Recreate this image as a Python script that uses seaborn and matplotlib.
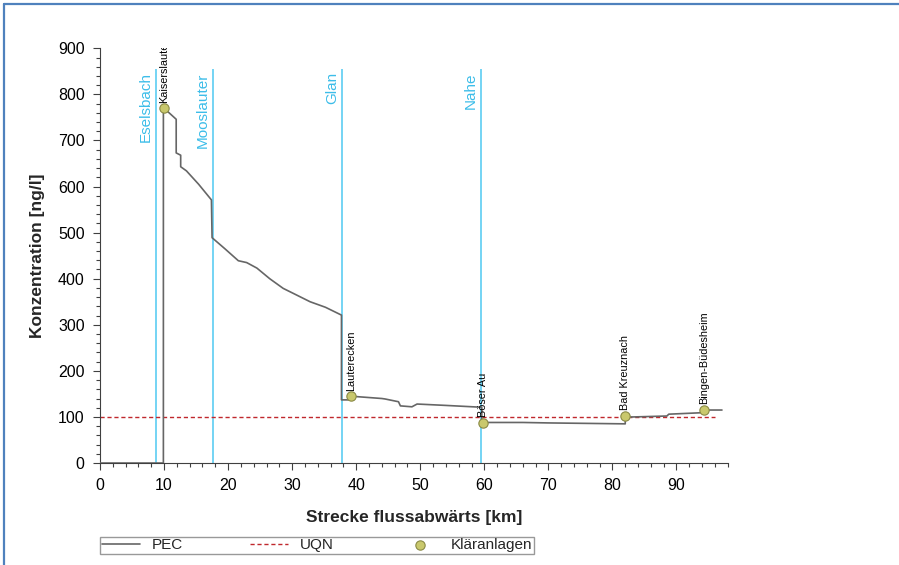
import matplotlib
matplotlib.use("Agg")
import matplotlib.pyplot as plt
import seaborn as sns
import numpy as np
from matplotlib.lines import Line2D
from matplotlib.ticker import MultipleLocator

# ----------------------------
# Data
# ----------------------------
km = [0, 9.9, 9.9, 10.0, 11.9, 11.9, 12.6, 12.6, 13.5, 15.4, 17.4, 17.5,
      19.5, 21.6, 22.9, 24.5, 26.5, 28.6, 30.2, 32.8, 35.2, 37.7, 37.7,
      38.9, 39.2, 44.0, 44.5, 46.6, 46.9, 48.7, 49.5, 54.0, 59.6, 59.6,
      66.0, 70.0, 76.0, 82.0, 82.0, 83.3, 88.5, 88.8, 93.7, 94.3, 97.1]
pec = [0, 0, 770, 770, 746, 673, 668, 643, 634, 605, 571, 489,
       465, 439, 435, 423, 400, 379, 368, 350, 338, 321, 137,
       137, 145, 140, 139, 133, 124, 122, 128, 125, 121, 88,
       88, 87, 86, 85, 100, 100, 102, 106, 109, 115, 115]

uqn_km = [0, 96]
uqn = [100, 100]

wwtp_names = ["Kaiserslautern", "Lauterecken", "Böser Au", "Bad Kreuznach", "Bingen-Büdesheim"]
wwtp_km = [10.0, 39.2, 59.8, 82.0, 94.3]
wwtp_conc = [770, 145, 87, 102, 115]

river_names = ["Eselsbach", "Mooslauter", "Glan", "Nahe"]
river_km = [8.7, 17.6, 37.8, 59.5]
river_top = 855

sns.set_theme(style="ticks")
plt.rcParams["font.family"] = ["Liberation Sans", "DejaVu Sans"]

fig = plt.figure(figsize=(8.99, 5.65), dpi=100)
ax = fig.add_axes([0.1112, 0.1805, 0.6983, 0.734])

# ----------------------------
# Tributaries
# ----------------------------
ax.vlines(river_km, 0, river_top, color="#5ccdf2", lw=1.2, zorder=1)
for name, x in zip(river_names, river_km):
    ax.text(x - 0.45, 848, name, rotation=90, ha="right", va="top",
            fontsize=11, color="#3cbde9")

# ----------------------------
# PEC, UQN, treatment plants
# ----------------------------
sns.lineplot(x=km, y=pec, sort=False, estimator=None, color="#666666",
             lw=1.2, ax=ax, label="PEC", zorder=3)
sns.lineplot(x=uqn_km, y=uqn, sort=False, estimator=None, color="#c0282d",
             lw=1.0, ax=ax, label="UQN", zorder=2)
ax.lines[-1].set_dashes((3, 2))
sns.scatterplot(x=wwtp_km, y=wwtp_conc, s=45, color="#c9c86c",
                edgecolor="#8a8a45", linewidth=0.8, ax=ax,
                label="Kläranlagen", zorder=5)

for name, x, y in zip(wwtp_names, wwtp_km, wwtp_conc):
    ax.text(x, y + 12, name, rotation=90, ha="center", va="bottom",
            fontsize=7.8, color="black", clip_on=True)

# ----------------------------
# Axes styling
# ----------------------------
ax.set_xlim(0, 98)
ax.set_ylim(0, 900)
ax.xaxis.set_major_locator(MultipleLocator(10))
ax.xaxis.set_minor_locator(MultipleLocator(2))
ax.yaxis.set_major_locator(MultipleLocator(100))
ax.yaxis.set_minor_locator(MultipleLocator(20))
ax.tick_params(which="major", length=5, width=0.8, color="#404040",
               labelsize=11.5, pad=6, labelcolor="black")
ax.tick_params(which="minor", length=2.7, width=0.8, color="#404040")
sns.despine(ax=ax)
for s in ["left", "bottom"]:
    ax.spines[s].set_color("#404040")
    ax.spines[s].set_linewidth(0.8)

ax.set_xlabel("Strecke flussabwärts [km]", fontsize=12.5, fontweight="bold", labelpad=12)
ax.set_ylabel("Konzentration [ng/l]", fontsize=12.5, fontweight="bold", labelpad=9)

# ----------------------------
# Legend below the plot
# ----------------------------
handles, labels = ax.get_legend_handles_labels()
if ax.get_legend() is not None:
    ax.get_legend().remove()
leg = fig.legend(handles, labels, loc="lower left", bbox_to_anchor=(0.111, 0.019),
                 ncol=3, frameon=True, fancybox=False, edgecolor="#808080",
                 fontsize=11, handlelength=2.5, handletextpad=0.8,
                 columnspacing=4.35, borderpad=0.12, borderaxespad=0)
leg.get_frame().set_linewidth(1.0)

# blue page frame (top and left)
fig.add_artist(Line2D([4 / 899, 4 / 899], [0, 1 - 3.8 / 565],
                      transform=fig.transFigure, color="#4f81bd", lw=1.6))
fig.add_artist(Line2D([4 / 899, 1], [1 - 3.8 / 565, 1 - 3.8 / 565],
                      transform=fig.transFigure, color="#4f81bd", lw=1.6))

fig.savefig("out.png", dpi=100)
